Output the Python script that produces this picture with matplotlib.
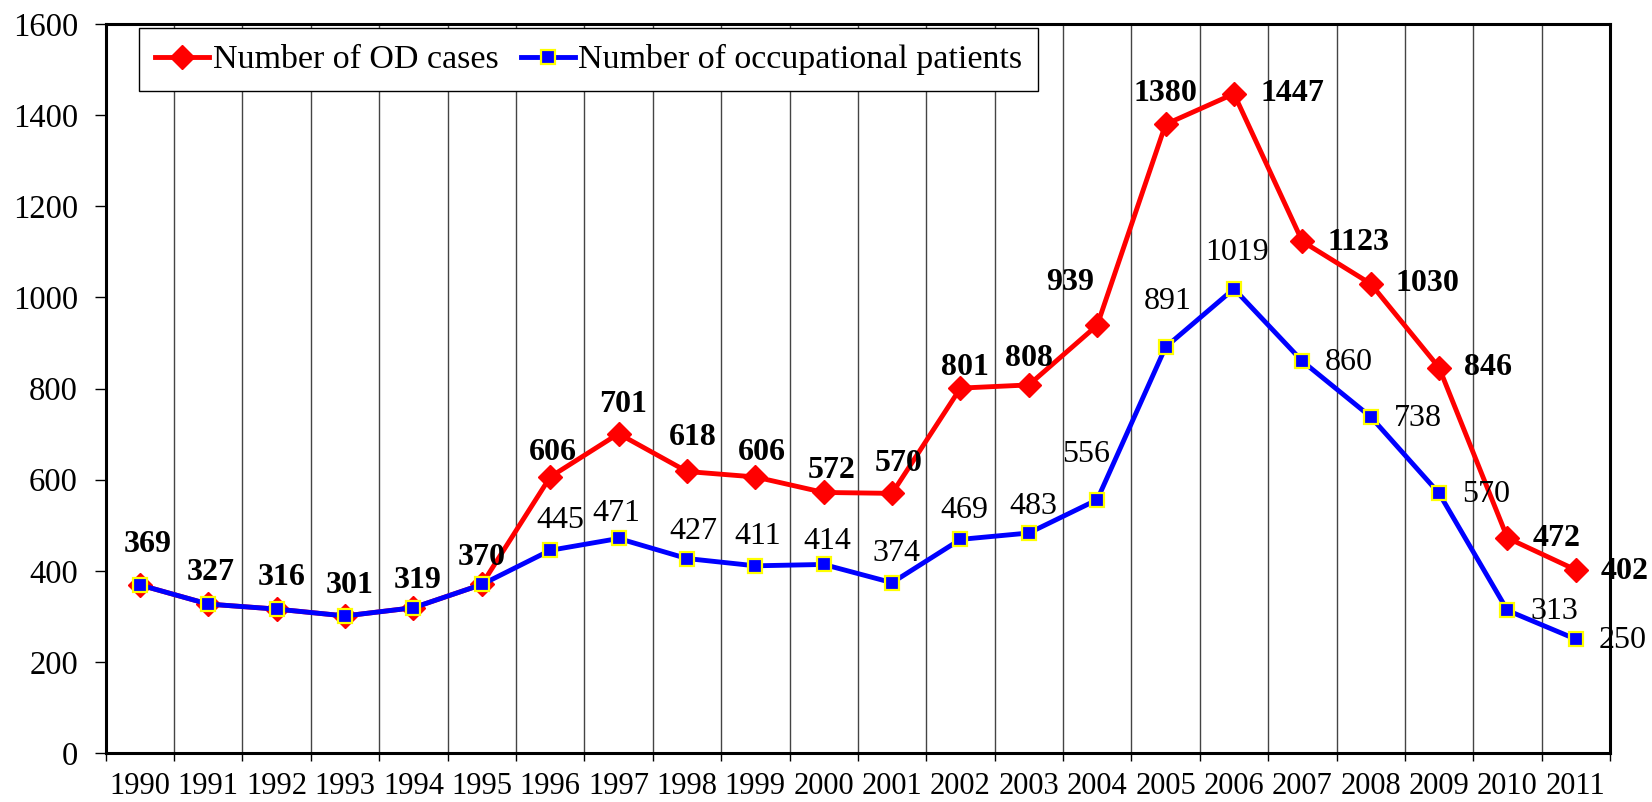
import matplotlib.pyplot as plt

plt.rcParams['font.family'] = ['Liberation Serif', 'DejaVu Serif']

years = [str(y) for y in range(1990, 2012)]
od_cases = [369, 327, 316, 301, 319, 370, 606, 701, 618, 606, 572, 570,
            801, 808, 939, 1380, 1447, 1123, 1030, 846, 472, 402]
patients = [369, 327, 316, 301, 319, 370, 445, 471, 427, 411, 414, 374,
            469, 483, 556, 891, 1019, 860, 738, 570, 313, 250]

# label placement: x offset in categories, y in data units
od_dx = [0.12, 0.04, 0.07, 0.06, 0.06, 0.0, 0.04, 0.06, 0.09, 0.1, 0.12, 0.1,
         0.06, 0.0, -0.39, 0.0, 0.85, 0.82, 0.83, 0.72, 0.72, 0.72]
od_y = [457, 397, 386, 367, 378, 429, 659, 765, 693, 659, 620, 636,
        847, 865, 1033, 1448, 1447, 1121, 1030, 846, 472, 398]
# blue labels from 1996 on
pt_dx = [0.15, -0.04, 0.1, 0.04, 0.06, 0.06, 0.06, 0.06, -0.16, 0.03, 0.04,
         0.68, 0.69, 0.69, 0.68, 0.68]
pt_y = [511, 526, 486, 475, 464, 438, 533, 542, 655, 990, 1098, 858,
        735, 567, 310, 246]

fig = plt.figure(figsize=(16.52, 8.02), dpi=100)
ax = fig.add_axes([0.064, 0.061, 0.9106, 0.909])
x = list(range(len(years)))

ax.plot(x, od_cases, color='red', lw=3.5, marker='D', ms=12, mfc='red',
        mec='red', label='Number of OD cases', zorder=3)
ax.plot(x, patients, color='blue', lw=3.5, marker='s', ms=10, mfc='blue',
        mec='yellow', mew=1.6, label='Number of occupational patients', zorder=4)

for i, v in enumerate(od_cases):
    ax.text(i + od_dx[i], od_y[i], str(v), fontsize=23, fontweight='bold',
            ha='center', va='center', zorder=5, clip_on=False)
for j, v in enumerate(patients[6:]):
    i = j + 6
    ax.text(i + pt_dx[j], pt_y[j], str(v), fontsize=23,
            ha='center', va='center', zorder=5, clip_on=False)

ax.set_xlim(-0.5, len(years) - 0.5)
ax.set_ylim(0, 1600)
ax.set_yticks(range(0, 1601, 200))
ax.set_xticks([i - 0.5 for i in range(len(years) + 1)])
ax.set_xticklabels([])
ax.set_xticks(x, minor=True)
ax.set_xticklabels(years, minor=True)
ax.tick_params(axis='x', which='minor', length=0, pad=13.5, labelsize=22)
ax.tick_params(axis='x', which='major', length=6, width=1, direction='out')
ax.tick_params(axis='y', length=8, width=1, direction='out', labelsize=23.5,
               pad=12)
ax.xaxis.grid(True, which='major', color='#444444', lw=1)

for side in ['left', 'bottom', 'right', 'top']:
    ax.spines[side].set_linewidth(2.2)

ax.legend(loc='upper left', bbox_to_anchor=(0.022, 0.994), borderaxespad=0,
          ncol=2, fontsize=24.5, frameon=True, fancybox=False,
          edgecolor='black', framealpha=1, handlelength=1.6,
          handletextpad=0.1, columnspacing=0.65, numpoints=1, borderpad=0.47)

fig.savefig('out.png', dpi=100)
